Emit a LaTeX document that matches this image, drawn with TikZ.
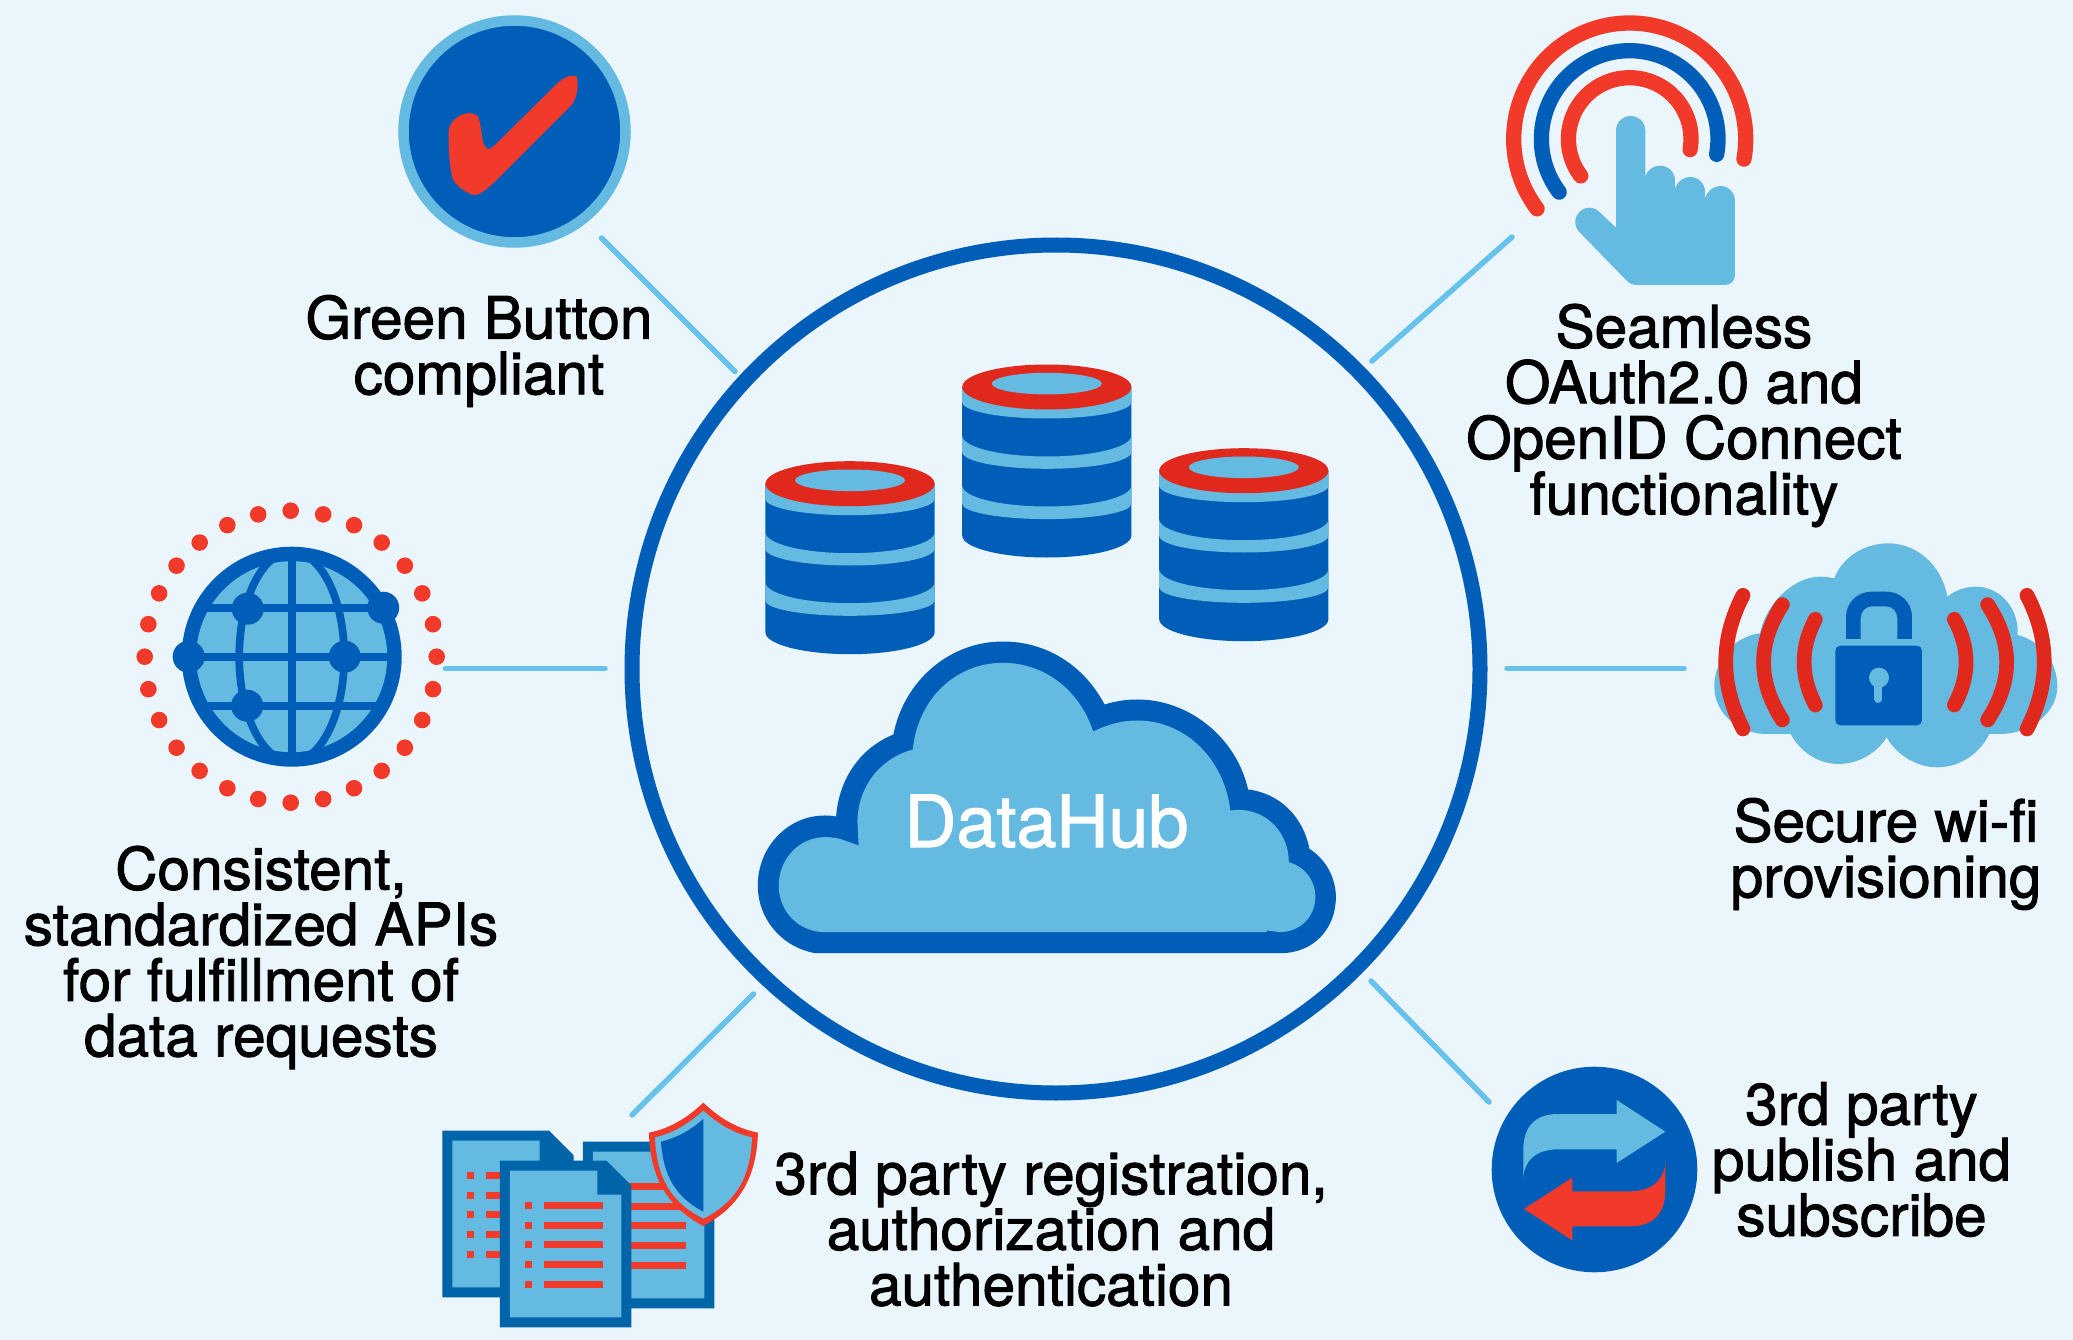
\documentclass[tikz,border=0pt]{standalone}
\usepackage{fontspec}
\usepackage{tikz}
\newfontfamily\bodyfont[FakeBold=1.6]{TeX Gyre Heros}
\newfontfamily\hubfont[FakeBold=1.4]{TeX Gyre Heros}
\definecolor{paleback}{HTML}{EAF6FC}
\definecolor{skyblue}{HTML}{64BAE0}
\definecolor{spokeblue}{HTML}{66C2EA}
\definecolor{hubblue}{HTML}{005EB8}
\definecolor{docblue}{HTML}{0064A8}
\definecolor{hotred}{HTML}{F23A2A}
\definecolor{deepred}{HTML}{E0291C}
\tikzset{
  bodytext/.style={inner sep=0pt,align=center,font=\bodyfont\fontsize{58.5}{55.6}\selectfont},
  spoke/.style={spokeblue,line width=5.5pt,line cap=round},
  fine/.style={x=0.3333pt,y=-0.3333pt},
  finewide/.style={x=0.3954pt,y=-0.3333pt},
}

\begin{document}
\begin{tikzpicture}[x=1pt,y=-1pt]
\useasboundingbox (0,0) rectangle (2073,1340);
\fill[paleback] (0,0) rectangle (2073,1340);

%Big circle and spokes
\draw[hubblue,line width=15pt] (1056,669) circle (424pt);
\coordinate (green a) at (601.5,238);
\coordinate (green b) at (735,371.5);
\coordinate (oauth a) at (1512,237);
\coordinate (oauth b) at (1372,361);
\coordinate (wifi a) at (1507,668.5);
\coordinate (wifi b) at (1684,668.5);
\coordinate (api a) at (445.5,668.5);
\coordinate (api b) at (605,668.5);
\coordinate (reg a) at (632,1115);
\coordinate (reg b) at (753.5,994);
\coordinate (pub a) at (1371,981);
\coordinate (pub b) at (1489,1102);
\foreach \spokename in {green,oauth,wifi,api,reg,pub}
  \draw[spoke] (\spokename\space a) -- (\spokename\space b);

%Databases
\foreach \dbx/\dby in {850/483.7,1046.8/387,1243.8/470.7}{
\begin{scope}[shift={(\dbx,\dby)}]
\fill[hubblue] (-84.6,0) -- (-84.6,148.5) arc[start angle=180,end angle=360,x radius=84.6pt,y radius=22pt] -- (84.6,0) -- cycle;
\fill[skyblue] (-84.6,0) -- (-84.6,15.1) arc[start angle=180,end angle=360,x radius=84.6pt,y radius=16.4pt] -- (84.6,0) -- cycle;
\fill[skyblue] (-84.6,48.5) arc[start angle=180,end angle=360,x radius=84.6pt,y radius=21pt] -- (84.6,65.1) arc[start angle=360,end angle=180,x radius=84.6pt,y radius=16.7pt] -- cycle;
\fill[skyblue] (-84.6,98.5) arc[start angle=180,end angle=360,x radius=84.6pt,y radius=21pt] -- (84.6,116.8) arc[start angle=360,end angle=180,x radius=84.6pt,y radius=15.3pt] -- cycle;
\fill[deepred] (0,0) ellipse (84.6pt and 22.5pt);
\fill[skyblue] (0,-3.4) ellipse (55pt and 10.8pt);
\end{scope}
}

%Cloud of the hub
\begin{scope}[shift={(740,630.5)},finewide]
\fill[hubblue] (190,968) -- (1368,968)
  .. controls (1450,968) and (1507,895) .. (1507,800)
  .. controls (1507,740) and (1480,685) .. (1440,655)
  .. controls (1425,560) and (1365,488) .. (1285,477)
  .. controls (1255,320) and (1135,207) .. (1005,207)
  .. controls (975,207) and (950,212) .. (922,222)
  .. controls (870,105) and (775,33) .. (665,33)
  .. controls (530,33) and (415,150) .. (388,312)
  .. controls (300,355) and (250,450) .. (243,558)
  .. controls (235,556) and (225,555) .. (215,555)
  .. controls (120,555) and (45,650) .. (45,765)
  .. controls (45,865) and (105,950) .. (190,968) -- cycle;
\fill[skyblue] (215,905) -- (1332,905) -- (1332,900) -- (1365,905)
  .. controls (1415,905) and (1455,860) .. (1455,800)
  .. controls (1455,750) and (1430,710) .. (1388,695)
  .. controls (1388,610) and (1335,538) .. (1260,538) -- (1240,540)
  .. controls (1225,385) and (1125,270) .. (1005,270)
  .. controls (965,270) and (930,282) .. (893,303)
  .. controls (860,180) and (770,97) .. (665,97)
  .. controls (545,97) and (450,205) .. (437,357)
  .. controls (350,385) and (297,475) .. (297,575)
  -- (300,645) -- (265,630)
  .. controls (250,623) and (235,620) .. (215,620)
  .. controls (150,620) and (98,685) .. (98,765)
  .. controls (98,845) and (150,905) .. (215,905) -- cycle;
\end{scope}
\node[anchor=base,inner sep=0pt,white,font=\hubfont\fontsize{72}{72}\selectfont] (hub label) at (1046.5,847) {DataHub};

%Check mark
\filldraw[fill=hubblue,draw=skyblue,line width=10.5pt] (514.5,131.5) circle (111pt);
\begin{scope}[shift={(380,0)},fine]
\fill[hotred] (590,230) .. controls (570,222) and (545,235) .. (520,262) -- (355,425)
  .. controls (335,445) and (322,455) .. (315,440) .. controls (303,420) and (305,375) .. (295,352)
  .. controls (285,330) and (225,335) .. (207,385) .. controls (203,420) and (208,510) .. (220,540)
  .. controls (235,565) and (270,585) .. (285,585) .. controls (305,585) and (340,550) .. (370,520)
  -- (570,320) .. controls (590,300) and (598,260) .. (590,230) -- cycle;
\end{scope}
\node[bodytext] (green label) at (479,351) {Green Button\\compliant};

%Touch hand and rings
\coordinate (ring center) at (1629.7,139);
\foreach \ringr/\ringc in {116/hotred,88.3/hubblue,61.3/hotred}
  \draw[\ringc,line width=15.3pt,line cap=round] (ring center) ++(217:\ringr pt) arc[start angle=217,end angle=-10,radius=\ringr pt];
\begin{scope}[shift={(1480,0)},fine]
\fill[skyblue] (408,683) -- (408,392) .. controls (408,367) and (428,348) .. (452,348)
  .. controls (476,348) and (496,367) .. (496,392) -- (496,530)
  .. controls (502,510) and (520,497) .. (541,497) .. controls (565,497) and (585,517) .. (585,541) -- (585,565)
  .. controls (592,545) and (610,531) .. (631,531) .. controls (655,531) and (675,551) .. (675,575) -- (675,595)
  .. controls (682,573) and (700,558) .. (721,558) .. controls (745,558) and (765,578) .. (765,603) -- (765,825)
  .. controls (765,842) and (752,855) .. (735,855) -- (470,855) .. controls (458,855) and (448,850) .. (440,842)
  -- (297,695) .. controls (270,665) and (295,623) .. (328,623) .. controls (340,623) and (350,628) .. (358,636) -- cycle;
\end{scope}
\node[bodytext] (oauth label) at (1684,415.5) {Seamless\\OAuth2.0 and\\OpenID Connect\\functionality};

%Globe
\begin{scope}[shift={(291.7,656.7)}]
\foreach \k in {0,...,27}
  \fill[hotred] ([xshift=-1pt]\k*360/28:146) circle (8.3pt);
\fill[hubblue] (0,0) circle (110pt);
\fill[skyblue] (0,0) circle (95.5pt);
\draw[hubblue,line width=7.7pt] (0,-98) -- (0,98);
\draw[hubblue,line width=7.7pt] (-90,-49) -- (90,-49);
\draw[hubblue,line width=7.7pt] (-97,0) -- (97,0);
\draw[hubblue,line width=7.7pt] (-90,49) -- (90,49);
\draw[hubblue,line width=7.7pt] (0,0) ellipse (52.5pt and 105pt);
\foreach \nodex/\nodey in {-44/-48,91.5/-49,-103/0,53/0,-44.5/49}
  \fill[hubblue] (\nodex,\nodey) circle (16pt);
\end{scope}
\node[bodytext] (api label) at (261,957.5) {Consistent,\\standardized APIs\\for fulfillment of\\data requests};

%Cloud with lock
\begin{scope}[shift={(1700,530)},fine]
\fill[skyblue] (272,612) .. controls (300,665) and (355,702) .. (415,702)
  .. controls (475,702) and (530,670) .. (560,622) .. controls (590,675) and (650,712) .. (712,712)
  .. controls (780,712) and (840,670) .. (868,612) -- (900,612)
  .. controls (995,612) and (1072,545) .. (1072,470) .. controls (1072,395) and (1025,335) .. (953,315)
  .. controls (958,235) and (900,170) .. (828,170) .. controls (795,170) and (765,182) .. (742,200)
  .. controls (725,105) and (650,40) .. (565,40) .. controls (490,40) and (425,85) .. (403,145)
  .. controls (390,142) and (375,140) .. (360,140) .. controls (285,140) and (200,215) .. (180,310)
  .. controls (100,320) and (43,390) .. (43,470) .. controls (43,550) and (115,612) .. (200,612) -- cycle;
\fill[hubblue,rounded corners=5pt] (406,347) rectangle (666,586);
\fill[hubblue] (438,327) -- (438,262) .. controls (438,215) and (475,185) .. (515,185) -- (558,185)
  .. controls (600,185) and (636,215) .. (636,262) -- (636,327) -- (592,327) -- (592,265)
  .. controls (592,245) and (578,229) .. (558,229) -- (515,229) .. controls (497,229) and (482,245) .. (482,265)
  -- (482,327) -- cycle;
\fill[skyblue] (537,443) circle (10pt);
\draw[skyblue,line width=8pt,line cap=round] (535,443) -- (535,507);
\foreach \arcx/\arcc/\arcy/\arcb/\arcd/\arcz in {129/60/196/329/463/597,247/172/224/339/454/570,346/301/268/353/439/525,763/810/268/353/439/525,863/939/224/339/454/570,981/1050/196/329/463/597}
  \draw[deepred,line width=14.7pt,line cap=round] (\arcx,\arcy) .. controls (\arcc,\arcb) and (\arcc,\arcd) .. (\arcx,\arcz);
\end{scope}
\node[bodytext] (wifi label) at (1886,854) {Secure wi-fi\\provisioning};

%Documents and shield
\begin{scope}[shift={(430,1090)},fine]
\foreach \dx/\dy in {37/122,459/155,210/212}{
\begin{scope}[shift={(\dx,\dy)}]
\fill[docblue] (0,0) -- (320,0) -- (394,74) -- (394,500) -- (0,500) -- cycle;
\fill[skyblue] (30,30) -- (292,30) -- (292,102) -- (364,102) -- (364,470) -- (30,470) -- cycle;
\foreach \rowy in {124,184,241,301,361}{
  \fill[hotred] (75,\rowy) rectangle +(21,21);
  \fill[hotred] (132,\rowy) rectangle +(177,21);
}
\end{scope}
}
\fill[hotred] (820,38) .. controls (770,85) and (720,115) .. (657,128) .. controls (660,260) and (710,350) .. (820,408)
  .. controls (930,350) and (980,260) .. (984,128) .. controls (920,115) and (870,85) .. (820,38) -- cycle;
\fill[skyblue] (820,62) .. controls (775,102) and (730,130) .. (675,142) .. controls (680,260) and (720,335) .. (820,386)
  .. controls (920,335) and (962,260) .. (966,142) .. controls (910,130) and (865,102) .. (820,62) -- cycle;
\fill[hubblue] (820,87) .. controls (785,118) and (745,142) .. (693,155) .. controls (700,255) and (735,320) .. (820,365) -- cycle;
\end{scope}
\node[bodytext] (reg label) at (1051,1229) {3rd party registration,\\authorization and\\authentication};

%Swap arrows
\fill[hubblue] (1594.5,1169.5) circle (102.8pt);
\begin{scope}[shift={(1480,1050)},fine]
\fill[skyblue] (130,390) -- (130,300) .. controls (130,230) and (165,192) .. (235,192) -- (410,192) -- (410,150)
  -- (556,245) -- (410,339) -- (410,298) -- (235,298) .. controls (165,298) and (130,335) .. (130,390) -- cycle;
\fill[hotred] (556,330) -- (556,420) .. controls (556,490) and (520,529) .. (450,529) -- (277,529) -- (277,571)
  -- (132,477) -- (277,383) -- (277,424) -- (450,424) .. controls (520,424) and (556,385) .. (556,330) -- cycle;
\end{scope}
\node[bodytext] (pub label) at (1861.5,1159.5) {3rd party\\publish and\\subscribe};

\end{tikzpicture}
\end{document}
